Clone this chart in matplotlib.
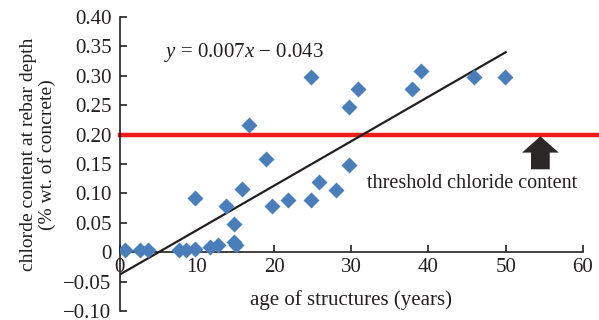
import matplotlib
matplotlib.use('Agg')
import matplotlib.pyplot as plt

matplotlib.rcParams.update({'font.family': 'Liberation Serif',
                            'font.size': 15,
                            'mathtext.fontset': 'custom',
                            'mathtext.rm': 'Liberation Serif',
                            'mathtext.it': 'Liberation Serif:italic'})

# measured chloride content vs age
age = [0.7, 2.6, 3.6, 7.7, 8.6, 9.8, 9.8, 11.7, 12.7, 13.7, 14.8, 14.8, 15.0,
       15.8, 16.7, 18.9, 19.7, 21.8, 24.8, 24.8, 25.8, 28.0, 29.7, 29.7, 30.9,
       37.8, 39.0, 45.9, 49.9]
chloride = [0.003, 0.003, 0.003, 0.004, 0.004, 0.005, 0.092, 0.009, 0.013,
            0.078, 0.048, 0.018, 0.013, 0.108, 0.217, 0.158, 0.078, 0.088,
            0.088, 0.298, 0.119, 0.106, 0.148, 0.247, 0.277, 0.277, 0.308,
            0.298, 0.298]

# fitted trend line as drawn
fit_x = [0, 50]
fit_y = [-0.038, 0.340]
threshold = 0.20

yticks = [-0.10, -0.05, 0, 0.05, 0.10, 0.15, 0.20, 0.25, 0.30, 0.35, 0.40]
ytick_labels = ['\u22120.10', '\u22120.05', '0', '0.05', '0.10', '0.15',
                '0.20', '0.25', '0.30', '0.35', '0.40']
xticks = [0, 10, 20, 30, 40, 50, 60]

fig = plt.figure(figsize=(5.99, 3.2), dpi=100)
ax = fig.add_axes([0.200, 0.028, 0.773, 0.919])

ax.plot([0, 62], [threshold, threshold], color='#ee1c1c', lw=3.2,
        clip_on=False, zorder=2)
ax.plot(fit_x, fit_y, color='#231f20', lw=1.6, zorder=3)
ax.plot(age, chloride, 'D', color='#4a7ebb', ms=8, mec='none', zorder=4)

ax.set_xlim(0, 60)
ax.set_ylim(-0.10, 0.40)
ax.set_yticks(yticks)
ax.set_yticklabels(ytick_labels)
ax.set_xticks(xticks)

for s in ['top', 'right']:
    ax.spines[s].set_visible(False)
ax.spines['bottom'].set_position(('data', 0))
for s in ['left', 'bottom']:
    ax.spines[s].set_color('#231f20')
    ax.spines[s].set_linewidth(1.2)
ax.tick_params(direction='in', length=5, width=1.2, color='#231f20',
               labelcolor='#231f20')
ax.tick_params(axis='x', pad=4)
ax.tick_params(axis='y', pad=6)

ax.set_ylabel('chlorde content at rebar depth\n(% wt. of concrete)',
              color='#231f20', fontsize=14, linespacing=1.1)
ax.yaxis.set_label_coords(-0.138, 0.532)
ax.text(30, -0.082, 'age of structures (years)', ha='center', va='center',
        color='#231f20')

ax.text(5.7, 0.34, '$y$ = 0.007$x$ \u2212 0.043', va='center', ha='left',
        color='#231f20')
ax.text(45.6, 0.117, 'threshold chloride content', ha='center', va='center',
        color='#231f20', fontsize=14.5)
ax.annotate('', xy=(54.5, 0.197), xytext=(54.5, 0.141),
            arrowprops=dict(arrowstyle='simple,head_width=1.47,head_length=0.65,tail_width=0.75',
                            mutation_scale=18, color='#2d2828', lw=0,
                            shrinkA=0, shrinkB=0))

plt.savefig('out.png', dpi=100)
